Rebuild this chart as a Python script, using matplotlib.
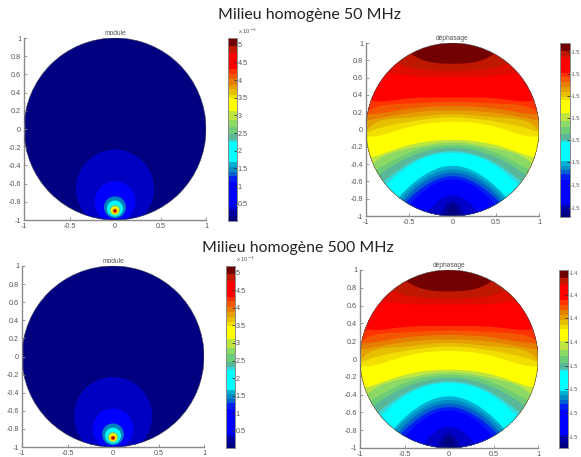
import numpy as np
import matplotlib
matplotlib.use("Agg")
import matplotlib.pyplot as plt
from matplotlib.patches import Circle
from matplotlib.colors import LinearSegmentedColormap

plt.rcParams['font.family'] = ['Liberation Sans', 'DejaVu Sans']
plt.rcParams['axes.unicode_minus'] = False

W, H = 581, 457

# Titles
row_titles = ["Milieu homogène 50 MHz", "Milieu homogène 500 MHz"]
panel_titles = ["module", "déphasage"]

# Module field: nested contours (centre y, radius, colour fraction)
module_center_y = [-0.657, -0.798, -0.86, -0.875, -0.89, -0.895, -0.90, -0.90]
module_radius = [0.43, 0.223, 0.12, 0.088, 0.058, 0.045, 0.026, 0.012]
module_level = [0.075, 0.125, 0.27, 0.375, 0.50, 0.64, 0.80, 1.0]
module_base_level = 0.0

# Phase field: contour boundaries, top to bottom: y at x = 0, 0.3, 0.5, 0.9
phase_level = [0.94, 0.91, 0.88, 0.82, 0.79, 0.76, 0.73, 0.70, 0.67, 0.64,
               0.57, 0.53, 0.50, 0.46, 0.43, 0.375, 0.31, 0.28, 0.25, 0.21,
               0.17, 0.125, 0.08, 0.04, 0.0]
phase_y0 = [0.76, 0.68, 0.61, 0.37, 0.32, 0.27, 0.22, 0.18, 0.14, 0.09,
            -0.12, -0.15, -0.18, -0.21, -0.25, -0.27, -0.42, -0.46, -0.50, -0.54,
            -0.58, -0.61, -0.76, -0.83, -0.87]
phase_y3 = [0.79, 0.69, 0.61, 0.37, 0.31, 0.26, 0.21, 0.16, 0.12, 0.07,
            -0.14, -0.18, -0.21, -0.25, -0.30, -0.32, -0.51, -0.55, -0.59, -0.64,
            -0.69, -0.73, -0.97, -1.58, -2.70]
phase_y5 = [0.89, 0.72, 0.62, 0.36, 0.30, 0.24, 0.19, 0.14, 0.09, 0.03,
            -0.18, -0.22, -0.27, -0.32, -0.39, -0.42, -0.66, -0.70, -0.75, -0.80,
            -0.88, -0.95, -1.34, -2.90, -5.90]
phase_y9 = [1.30, 1.00, 0.66, 0.33, 0.25, 0.18, 0.12, 0.07, 0.00, -0.08,
            -0.31, -0.38, -0.47, -0.57, -0.70, -0.75, -1.20, -1.24, -1.31, -1.38,
            -1.55, -1.71, -2.64, -7.50, -17.0]
phase_top_level = 1.0

# Colour bar bands: colour fraction and upper edge (fraction of bar height)
bar_level = [0.0, 0.04, 0.08, 0.125, 0.17, 0.21, 0.25, 0.28, 0.31, 0.375, 0.43,
             0.46, 0.50, 0.53, 0.57, 0.64, 0.67, 0.70, 0.73, 0.76, 0.79, 0.82,
             0.88, 0.91, 0.94, 1.0]
bar_top = [0.03, 0.06, 0.075, 0.19, 0.215, 0.245, 0.27, 0.295, 0.32, 0.43, 0.445,
           0.475, 0.515, 0.55, 0.60, 0.67, 0.69, 0.72, 0.745, 0.775, 0.805, 0.83,
           0.91, 0.925, 0.955, 1.0]

# Tick labels
xy_ticks = [-1, -0.5, 0, 0.5, 1]
y_ticks = [-1, -0.8, -0.6, -0.4, -0.2, 0, 0.2, 0.4, 0.6, 0.8, 1]
module_cb_ticks = [0.5, 1, 1.5, 2, 2.5, 3, 3.5, 4, 4.5, 5]
module_cb_range = [0.01, 5.19]
phase_cb_ticks_top = [0.052, 0.184, 0.316, 0.443, 0.57, 0.695, 0.82, 0.948]
phase_cb_labels_top = ["-1.5"] * 8
phase_cb_ticks_bot = [0.06, 0.197, 0.33, 0.46, 0.596, 0.73, 0.86, 0.983]
phase_cb_labels_bot = ["-1.5", "-1.5", "-1.5", "-1.5", "-1.4", "-1.4", "-1.4", "-1.4"]

TXT = "#555555"
AX = "#8a8a8a"
cmap = LinearSegmentedColormap.from_list("jetlike", [
    (0.00, (0, 0, 0.5)), (0.06, (0, 0, 0.7)), (0.125, (0, 0, 1)), (0.19, (0, 0, 1)),
    (0.27, (0, 0.5, 0.75)), (0.32, (0, 0.75, 0.85)), (0.375, (0, 1, 1)), (0.43, (0.2, 0.85, 0.85)),
    (0.46, (0.35, 0.72, 0.6)), (0.50, (0.42, 0.8, 0.47)), (0.53, (0.55, 0.85, 0.4)),
    (0.57, (0.75, 0.9, 0.25)), (0.64, (1, 1, 0)), (0.70, (0.9, 0.75, 0)), (0.76, (0.9, 0.5, 0)),
    (0.82, (1, 0.2, 0)), (0.88, (1, 0, 0)), (0.94, (0.75, 0.1, 0)), (1.00, (0.45, 0, 0))], N=512)

fig = plt.figure(figsize=(W / 100, H / 100), dpi=100, facecolor="white")


def px_axes(x0, x1, ytop, ybot):
    return fig.add_axes([x0 / W, 1 - ybot / H, (x1 - x0) / W, (ybot - ytop) / H])


def style_map(ax, title):
    ax.set_xlim(-1, 1)
    ax.set_ylim(-1, 1)
    ax.set_facecolor("none")
    for s in ("top", "right"):
        ax.spines[s].set_visible(False)
    for s in ("left", "bottom"):
        ax.spines[s].set_color(AX)
        ax.spines[s].set_linewidth(1.0)
    ax.set_xticks(xy_ticks)
    ax.set_xticklabels(["-1", "-0.5", "0", "0.5", "1"])
    ax.set_yticks(y_ticks)
    ax.set_yticklabels(["-1", "-0.8", "-0.6", "-0.4", "-0.2", "0", "0.2", "0.4", "0.6", "0.8", "1"])
    ax.tick_params(direction="in", length=2, width=0.6, color=AX, labelsize=5.2,
                   labelcolor=TXT, pad=2)
    ax.set_title(title, fontsize=4.8, color=TXT, pad=2.5)


def disc(ax):
    return Circle((0, 0), 1, transform=ax.transData)


def draw_module(ax):
    style_map(ax, panel_titles[0])
    ax.add_patch(Circle((0, 0), 1, facecolor=cmap(module_base_level), edgecolor="none", zorder=1))
    for cy, r, lv in zip(module_center_y, module_radius, module_level):
        c = Circle((0, cy), r, facecolor=cmap(lv), edgecolor="none", zorder=2)
        ax.add_patch(c)
        c.set_clip_path(disc(ax))
    ax.add_patch(Circle((0, 0), 1, fill=False, edgecolor="#404050", linewidth=0.4, zorder=3))


def draw_phase(ax):
    style_map(ax, panel_titles[1])
    ax.add_patch(Circle((0, 0), 1, facecolor=cmap(phase_top_level), edgecolor="none", zorder=1))
    xs = np.linspace(-1, 1, 401)
    for i, lv in enumerate(phase_level):
        coef = np.polyfit([0, 0.09, 0.25, 0.81],
                          [phase_y0[i], phase_y3[i], phase_y5[i], phase_y9[i]], 3)
        ys = np.polyval(coef, xs ** 2)
        poly = ax.fill_between(xs, ys, -40, color=cmap(lv), linewidth=0, zorder=2 + i * 0.01)
        poly.set_clip_path(disc(ax))
    ax.set_xlim(-1, 1)
    ax.set_ylim(-1, 1)
    ax.add_patch(Circle((0, 0), 1, fill=False, edgecolor="#505050", linewidth=0.4, zorder=3))


def draw_bar(ax, ymin, ymax, ticks, labels=None, size=5.2):
    edges = np.concatenate([[0.0], bar_top]) * (ymax - ymin) + ymin
    ax.pcolormesh([0, 1], edges, np.array(bar_level)[:, None], cmap=cmap, vmin=0, vmax=1)
    ax.set_xlim(0, 1)
    ax.set_ylim(ymin, ymax)
    ax.set_xticks([])
    ax.yaxis.tick_right()
    ax.set_yticks(ticks)
    if labels is not None:
        ax.set_yticklabels(labels)
    else:
        ax.set_yticklabels([f"{t:g}" for t in ticks])
    ax.tick_params(axis="y", direction="in", length=2, width=0.6, color="#303030",
                   labelsize=size, labelcolor=TXT, pad=0.6)
    for s in ax.spines.values():
        s.set_color(AX)
        s.set_linewidth(0.7)


# Row 1
a = px_axes(24, 206, 38, 220)
draw_module(a)
b = px_axes(228, 237, 38, 221)
draw_bar(b, module_cb_range[0], module_cb_range[1], module_cb_ticks)
fig.text(238 / W, 1 - 36 / H, r"x 10$^{-3}$", fontsize=4.2, color=TXT, va="bottom")
a = px_axes(366, 539, 43, 216)
draw_phase(a)
b = px_axes(560, 570, 43, 217)
draw_bar(b, 0, 1, phase_cb_ticks_top, phase_cb_labels_top, size=3.9)

# Row 2
a = px_axes(22, 204, 266, 447)
draw_module(a)
b = px_axes(226, 235, 266, 448)
draw_bar(b, module_cb_range[0], module_cb_range[1], module_cb_ticks)
fig.text(236 / W, 1 - 264 / H, r"x 10$^{-3}$", fontsize=4.2, color=TXT, va="bottom")
a = px_axes(360, 538, 270, 448)
draw_phase(a)
b = px_axes(559, 568, 270, 448)
draw_bar(b, 0, 1, phase_cb_ticks_bot, phase_cb_labels_bot, size=3.9)

# Row titles
fig.text(309 / W, 1 - 15 / H, row_titles[0], fontsize=11.5, family=["Lato", "DejaVu Sans"],
         color="#222222", ha="center", va="center")
fig.text(298 / W, 1 - 248 / H, row_titles[1], fontsize=11.4, family=["Lato", "DejaVu Sans"],
         color="#222222", ha="center", va="center")

fig.savefig("out.png", dpi=100)
